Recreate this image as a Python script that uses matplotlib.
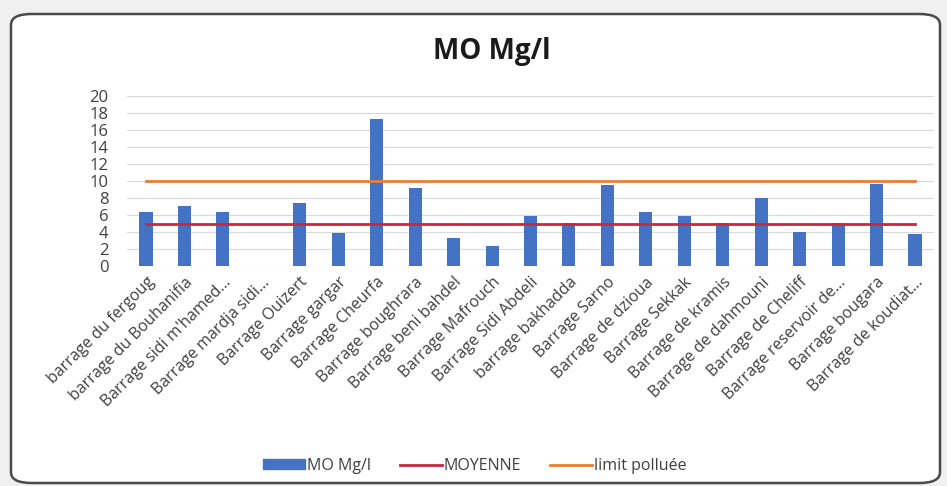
import matplotlib
matplotlib.use("Agg")
import matplotlib.pyplot as plt
from matplotlib.patches import FancyBboxPatch, Patch
from matplotlib.lines import Line2D
import numpy as np

categories = [
    "barrage du fergoug", "barrage du Bouhanifia", "Barrage sidi m'hamed…",
    "Barrage mardja sidi…", "Barrage Ouizert", "Barrage gargar",
    "Barrage Cheurfa", "Barrage boughrara", "Barrage beni bahdel",
    "Barrage Mafrouch", "Barrage Sidi Abdeli", "barrage bakhadda",
    "Barrage Sarno", "Barrage de dzioua", "Barrage Sekkak",
    "Barrage de kramis", "Barrage de dahmouni", "Barrage de Cheliff",
    "Barrage reservoir de…", "Barrage bougara", "Barrage de koudiat…",
]
mo_values = [6.3, 7.0, 6.4, 0, 7.4, 3.9, 17.3, 9.15, 3.3, 2.4, 5.9, 5.0,
             9.5, 6.4, 5.85, 5.0, 8.0, 4.0, 5.0, 9.7, 3.8]
moyenne = [4.9] * len(categories)
limit = [10] * len(categories)
yticks = list(range(0, 21, 2))

plt.rcParams['font.family'] = ['Open Sans', 'DejaVu Sans']

W, H = 947, 486
fig = plt.figure(figsize=(W / 100, H / 100), dpi=100)
fig.patch.set_facecolor('#f0f0f0')

frame = FancyBboxPatch((11 / W, 3 / H), 929 / W, 469 / H,
                       boxstyle="round,pad=0,rounding_size=0.022",
                       transform=fig.transFigure, facecolor='white',
                       edgecolor='#4a4a4a', linewidth=1.8, zorder=-10)
fig.patches.append(frame)

ax = fig.add_axes([126.8 / W, 1 - 266 / H, 807.4 / W, 170 / H])
ax.set_zorder(5)
ax.set_facecolor('none')
x = np.arange(len(categories))
ax.bar(x, mo_values, width=0.34, color='#4472C4', zorder=2)
ax.plot(x, moyenne, color='#C9283E', lw=2, zorder=3)
ax.plot(x, limit, color='#ED7D31', lw=2, zorder=3)

ax.set_xlim(-0.5, len(categories) - 0.5)
ax.set_ylim(0, 20)
ax.set_yticks(yticks)
ax.set_yticklabels([str(t) for t in yticks], fontsize=12, color='#404040')
ax.set_xticks(x)
ax.set_xticklabels(categories, rotation=45, ha='right', rotation_mode='anchor',
                   fontsize=11.5, color='#404040')
ax.grid(axis='y', color='#d9d9d9', lw=0.8, zorder=0)
ax.set_axisbelow(True)
for s in ax.spines.values():
    s.set_visible(False)
ax.tick_params(axis='y', length=0, pad=13)
ax.tick_params(axis='x', length=0, pad=6)

fig.text(492 / W, 1 - 52 / H, "MO Mg/l", ha='center', va='center',
         fontsize=20, fontweight='bold', color='#1a1a1a')

handles = [Patch(color='#4472C4', label='MO Mg/l'),
           Line2D([], [], color='#C9283E', lw=2, label='MOYENNE'),
           Line2D([], [], color='#ED7D31', lw=2, label='limit polluée')]
leg = fig.legend(handles=handles, loc='center', bbox_to_anchor=(475 / W, 1 - 466 / H),
                 ncol=3, frameon=False, fontsize=11.5, handlelength=2.6,
                 handleheight=0.6, handletextpad=0.15, columnspacing=1.8,
                 labelcolor='#404040')
leg.set_zorder(6)

fig.savefig("out.png", dpi=100, facecolor=fig.get_facecolor())
